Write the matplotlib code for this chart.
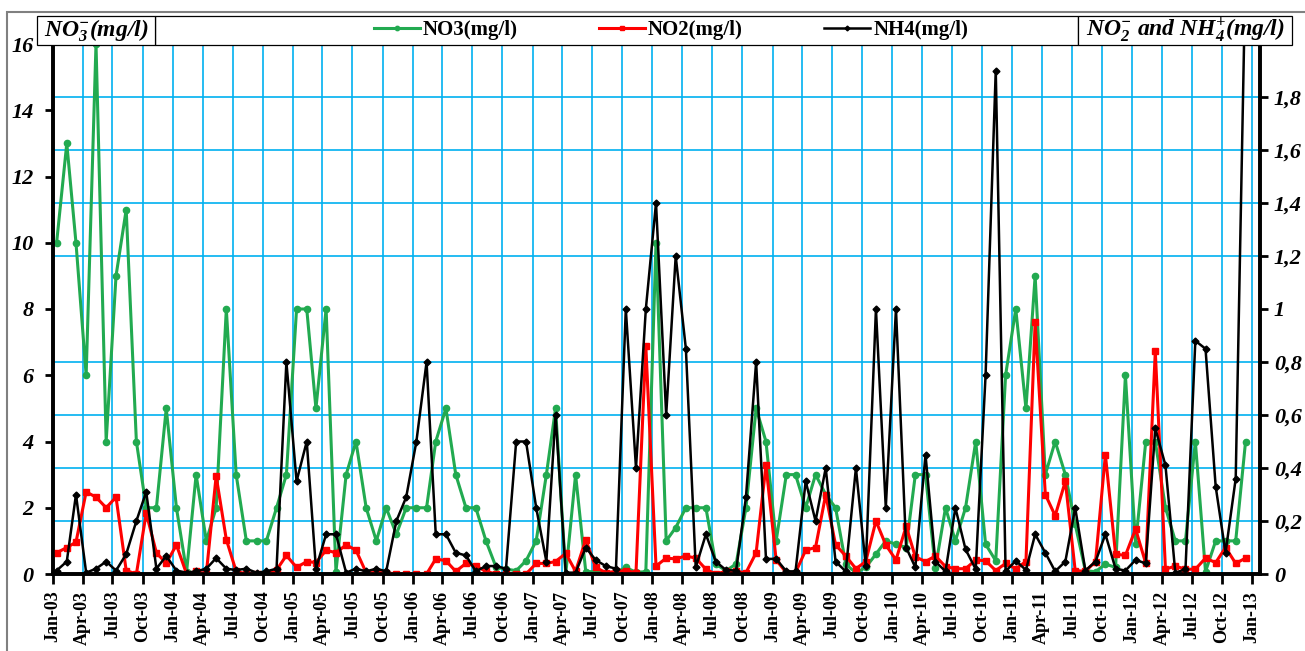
import matplotlib
matplotlib.use('Agg')
import matplotlib.pyplot as plt
import pandas as pd
from matplotlib.ticker import MultipleLocator, FixedLocator, FuncFormatter
from matplotlib.patches import Rectangle

plt.rcParams['font.family'] = 'Liberation Serif'
plt.rcParams['mathtext.fontset'] = 'custom'
plt.rcParams['mathtext.rm'] = 'Liberation Serif:bold:italic'
plt.rcParams['mathtext.it'] = 'Liberation Serif:bold:italic'
plt.rcParams['mathtext.bf'] = 'Liberation Serif:bold:italic'

# monthly samples, Jan-03 .. Dec-12
dates = pd.date_range('2003-01-01', periods=120, freq='MS') + pd.Timedelta(days=11)

no3 = [10, 13, 10, 6, 16, 4, 9, 11, 4, 2, 2, 5,
       2, 0.07, 3, 1, 2, 8, 3, 1, 1, 1, 2, 3,
       8, 8, 5, 8, 0.07, 3, 4, 2, 1, 2, 1.2, 2,
       2, 2, 4, 5, 3, 2, 2, 1, 0.2, 0.15, 0.1, 0.4,
       1, 3, 5, 0, 3, 0.07, 0.07, 0.02, 0.05, 0.2, 0.05, 0.07,
       10, 1, 1.4, 2, 2, 2, 0.3, 0.1, 0.3, 2, 5, 4,
       1, 3, 3, 2, 3, 2.4, 2, 0.3, 0.03, 0.2, 0.6, 1.0,
       0.9, 0.8, 3, 3, 0.17, 2, 1, 2, 4, 0.9, 0.4, 6,
       8, 5, 9, 3, 4, 3, 1.5, 0.1, 0.07, 0.3, 0.2, 6,
       0.9, 4, 4, 2, 1, 1, 4, 0.07, 1, 1, 1, 4]

no2 = [0.08, 0.10, 0.12, 0.31, 0.29, 0.25, 0.29, 0.013, 0.0, 0.23, 0.08, 0.04,
       0.11, 0.0, 0.01, 0.0, 0.37, 0.13, 0.01, 0.0, 0.0, 0.0, 0.015, 0.07,
       0.025, 0.047, 0.043, 0.09, 0.08, 0.11, 0.09, 0.005, 0.005, 0.005, 0.0, 0.0,
       0.0, 0.0, 0.057, 0.05, 0.01, 0.04, 0.03, 0.01, 0.0, 0.0, 0.0, 0.0,
       0.04, 0.04, 0.047, 0.078, 0.01, 0.13, 0.025, 0.005, 0.01, 0.013, 0.005, 0.86,
       0.03, 0.06, 0.057, 0.068, 0.06, 0.018, 0.0, 0.01, 0.01, 0.005, 0.08, 0.41,
       0.053, 0.005, 0.005, 0.09, 0.10, 0.30, 0.11, 0.068, 0.02, 0.047, 0.20, 0.11,
       0.053, 0.18, 0.065, 0.047, 0.068, 0.028, 0.02, 0.02, 0.053, 0.05, 0.013, 0.04,
       0.02, 0.047, 0.95, 0.30, 0.22, 0.35, 0.013, 0.01, 0.047, 0.45, 0.075, 0.07,
       0.17, 0.04, 0.84, 0.018, 0.03, 0.018, 0.018, 0.06, 0.043, 0.10, 0.04, 0.06]

nh4 = [0.013, 0.047, 0.30, 0.005, 0.02, 0.047, 0.013, 0.075, 0.20, 0.31, 0.02, 0.068,
       0.013, 0.005, 0.01, 0.02, 0.06, 0.02, 0.015, 0.02, 0.005, 0.01, 0.02, 0.80,
       0.35, 0.50, 0.02, 0.15, 0.15, 0.005, 0.02, 0.01, 0.02, 0.01, 0.20, 0.29,
       0.50, 0.80, 0.15, 0.15, 0.08, 0.07, 0.01, 0.03, 0.03, 0.02, 0.50, 0.50,
       0.25, 0.047, 0.60, 0.005, 0.005, 0.10, 0.053, 0.03, 0.02, 1.0, 0.40, 1.0,
       1.40, 0.60, 1.20, 0.85, 0.025, 0.15, 0.047, 0.015, 0.013, 0.29, 0.80, 0.057,
       0.057, 0.01, 0.01, 0.35, 0.20, 0.40, 0.047, 0.01, 0.40, 0.03, 1.0, 0.25,
       1.0, 0.10, 0.025, 0.45, 0.047, 0.01, 0.25, 0.093, 0.018, 0.75, 1.90, 0.01,
       0.05, 0.015, 0.15, 0.08, 0.01, 0.047, 0.25, 0.013, 0.047, 0.15, 0.02, 0.013,
       0.053, 0.04, 0.55, 0.41, 0.005, 0.018, 0.88, 0.85, 0.33, 0.08, 0.36, 2.3]

tick_dates = pd.date_range('2003-01-01', '2013-01-01', freq='3MS')
tick_labels = [d.strftime('%b-%y') for d in tick_dates]
right_ticks = [0, 0.2, 0.4, 0.6, 0.8, 1.0, 1.2, 1.4, 1.6, 1.8]

GREEN = '#22aa50'
GRID = '#00b0f0'
W, H = 1305, 651


def main():
    fig = plt.figure(figsize=(W / 100, H / 100), dpi=100)
    ax = fig.add_axes([53 / W, 1 - 574 / H, (1260 - 53) / W, (574 - 44) / H])
    ax2 = ax.twinx()

    ax.plot(dates, no3, color=GREEN, lw=2.2, marker='o', ms=4.5, label='NO3(mg/l)')
    ax2.plot(dates, no2, color='#ff0000', lw=2.2, marker='s', ms=5, label='NO2(mg/l)')
    ax2.plot(dates, nh4, color='black', lw=1.8, marker='D', ms=3.5, label='NH4(mg/l)')

    ax.set_xlim(pd.Timestamp('2003-01-01'), pd.Timestamp('2013-01-25'))
    ax.set_ylim(0, 16)
    ax2.set_ylim(0, 2)

    ax.set_xticks(tick_dates)
    ax.set_xticklabels(tick_labels, rotation=90, fontsize=13, fontweight='bold')
    ax.yaxis.set_major_locator(MultipleLocator(2))
    ax.yaxis.set_minor_locator(MultipleLocator(1.6))
    ax.yaxis.set_major_formatter(FuncFormatter(lambda v, p: f'{v:g}'))
    ax.tick_params(axis='y', which='major', labelsize=16, length=6, width=2, pad=8)
    ax.tick_params(axis='y', which='minor', length=0)
    ax.tick_params(axis='x', length=7, width=2, pad=5)

    ax2.yaxis.set_major_locator(FixedLocator(right_ticks))
    ax2.yaxis.set_major_formatter(FuncFormatter(lambda v, p: f'{v:g}'.replace('.', ',')))
    ax2.tick_params(axis='y', labelsize=16, length=6, width=2, pad=4)
    for t in ax.get_yticklabels() + ax2.get_yticklabels():
        t.set_fontstyle('italic')
        t.set_fontweight('bold')

    ax.set_axisbelow(True)
    ax.grid(True, axis='x', color=GRID, lw=1.2)
    ax.grid(True, axis='y', which='minor', color=GRID, lw=1.2)

    for a in (ax, ax2):
        for side in ('left', 'right', 'bottom'):
            a.spines[side].set_linewidth(2.6)
        a.spines['top'].set_linewidth(0.8)

    # header boxes
    def box(x0, x1, y0=16, y1=45):
        fig.patches.append(Rectangle((x0 / W, 1 - y1 / H), (x1 - x0) / W, (y1 - y0) / H,
                                     transform=fig.transFigure, facecolor='white',
                                     edgecolor='black', lw=0.9, zorder=5))
    fig.patches.append(Rectangle((7 / W, -0.1), 2, 1.1 - 12 / H, transform=fig.transFigure,
                                 facecolor='none', edgecolor='#808080', lw=1.5, zorder=4))
    box(155, 1078)
    box(37, 155)
    box(1078, 1292)
    fig.text(96 / W, 1 - 31 / H, r'NO$_3^{-}$(mg/l)', ha='center', va='center',
             fontsize=17, fontweight='bold', fontstyle='italic', zorder=6)
    fig.text(1185 / W, 1 - 31 / H, r'NO$_2^{-}$ and NH$_4^{+}$(mg/l)', ha='center',
             va='center', fontsize=17, fontweight='bold', fontstyle='italic', zorder=6)

    handles = ax.get_lines() + ax2.get_lines()
    leg = fig.legend(handles, [h.get_label() for h in handles], loc='center',
                     bbox_to_anchor=(671 / W, 1 - 30 / H), ncol=3, frameon=False,
                     prop={'weight': 'bold', 'size': 15}, handlelength=2.2,
                     handletextpad=0.15, columnspacing=3.9, markerscale=0.7)
    leg.set_zorder(7)

    fig.savefig('out.png', dpi=100)


if __name__ == '__main__':
    main()
